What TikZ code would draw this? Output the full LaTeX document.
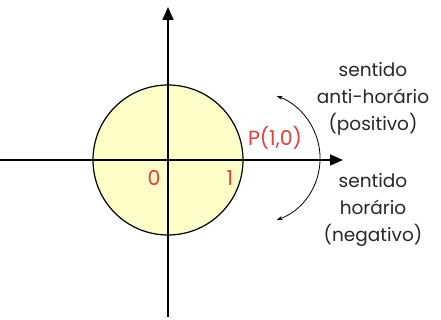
\documentclass[tikz,border=0pt]{standalone}
\usepackage{fontspec}
\setmainfont{Poppins}
\usetikzlibrary{arrows.meta}
\definecolor{discfill}{RGB}{255,253,200}
\definecolor{labelred}{RGB}{232,60,55}
\tikzset{
  axis/.style={line width=1.6pt, -{Triangle[length=13pt,width=11pt]}},
  sense/.style={align=center, font=\fontsize{18.5}{27}\selectfont, text=black!85},
  redlabel/.style={font=\fontsize{20.5}{22}\selectfont, text=labelred, inner sep=0pt}
}
\begin{document}
\begin{tikzpicture}[x=1pt,y=1pt]
\useasboundingbox (0,0) rectangle (441,320);
\coordinate (O) at (168,160);

\draw[fill=discfill, line width=1.2pt] (O) circle (75);

\coordinate (xmin) at (0,160);
\coordinate (xmax) at (343,160);
\coordinate (ymin) at (168,3);
\coordinate (ymax) at (168,313);
\draw[axis] (xmin) -- (xmax);
\draw[axis] (ymin) -- (ymax);

\draw[line width=0.8pt, {Stealth[length=6pt,width=4pt]}-{Stealth[length=6pt,width=4pt]}]
  ([shift={(-70:66)}]254,162) arc (-70:70:66);

\node[redlabel] (P) at (275,182) {P(1,0)};
\node[redlabel] (zero) at (154,142) {0};
\node[redlabel] (one) at (230,142) {1};

\node[sense] (pos) at (373,221) {sentido\\anti-horário\\(positivo)};
\node[sense] (neg) at (373,110) {sentido\\horário\\(negativo)};
\end{tikzpicture}
\end{document}
